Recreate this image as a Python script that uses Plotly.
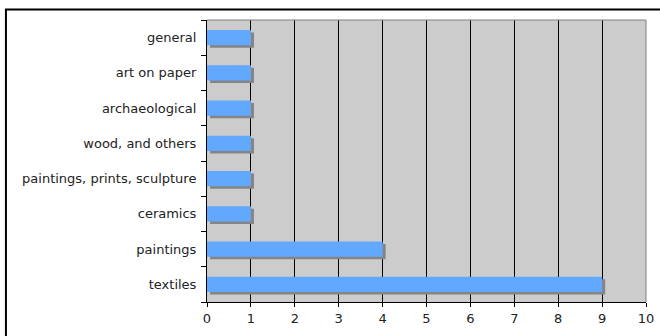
import plotly.graph_objects as go

# Collection categories (bottom to top) and counts
categories = ["textiles", "paintings", "ceramics", "paintings, prints, sculpture",
              "wood, and others", "archaeological", "art on paper", "general"]
counts = [9, 4, 1, 1, 1, 1, 1, 1]
x_ticks = list(range(0, 11))

BAR_W = 0.43
SHADOW_DX = 0.07   # horizontal shadow shift, data units
SHADOW_DY = 0.07   # vertical shadow shift, category units

fig = go.Figure()

# drop shadow under each bar
fig.add_trace(go.Bar(
    y=categories, x=counts, base=[SHADOW_DX] * len(counts), orientation="h",
    width=BAR_W, offset=-BAR_W / 2 - SHADOW_DY,
    marker=dict(color="#858585", line=dict(width=0)),
    hoverinfo="skip", showlegend=False,
))
# main bars
fig.add_trace(go.Bar(
    y=categories, x=counts, orientation="h",
    width=BAR_W, offset=-BAR_W / 2,
    marker=dict(color="#62A8FF", line=dict(width=0)),
    showlegend=False,
))

font = dict(family="DejaVu Sans, Verdana, sans-serif", size=13, color="#222222")

fig.update_layout(
    width=660, height=336,
    margin=dict(l=207, r=14, t=20, b=34),
    paper_bgcolor="white", plot_bgcolor="#CCCCCC",
    barmode="overlay",
    font=font,
    xaxis=dict(range=[0, 10], tickvals=x_ticks, showgrid=True, gridcolor="#000000",
               gridwidth=1, zeroline=False, showline=True, linecolor="#000000",
               linewidth=1, ticks="outside", ticklen=4, tickcolor="#000000",
               tickfont=font, fixedrange=True, automargin=False),
    yaxis=dict(categoryorder="array", categoryarray=categories, range=[-0.5, 7.5],
               showgrid=False, zeroline=False, showline=True, linecolor="#000000",
               linewidth=1, ticks="outside", ticklen=5, tickcolor="#000000",
               tickson="boundaries", tickfont=font, ticklabelstandoff=7,
               fixedrange=True, automargin=False),
    shapes=[
        # grey frame on top and right of the plot area
        dict(type="line", xref="paper", yref="paper", x0=0, x1=1, y0=1, y1=1,
             line=dict(color="#808080", width=1)),
        dict(type="line", xref="paper", yref="paper", x0=1, x1=1, y0=0, y1=1,
             line=dict(color="#808080", width=1)),
        # outer chart border
        dict(type="rect", xref="paper", yref="paper", x0=-0.458, x1=1.3, y0=-0.3, y1=1.037,
             line=dict(color="#000000", width=2), fillcolor="rgba(0,0,0,0)"),
    ],
)

fig.write_html("out.html")
